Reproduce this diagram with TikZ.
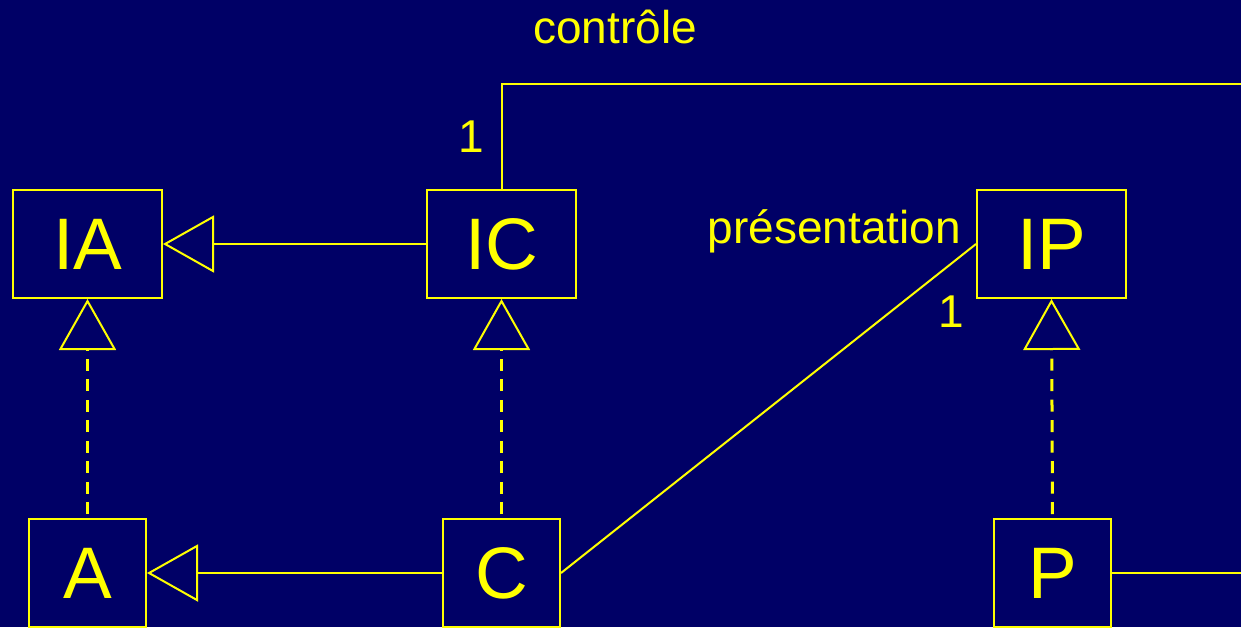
\documentclass[tikz,border=0pt]{standalone}
\usepackage{fontspec}
\setmainfont{Liberation Sans}
\usetikzlibrary{arrows.meta}
\definecolor{bgnavy}{RGB}{0,0,102}
\definecolor{umlyellow}{RGB}{255,255,0}
\begin{document}
\begin{tikzpicture}[x=1pt,y=-1pt,
  classbox/.style={draw=umlyellow,line width=2pt,inner sep=0pt,minimum width=149pt,minimum height=108pt,text=umlyellow,font=\fontsize{73}{80}\selectfont},
  implbox/.style={classbox,minimum width=117pt},
  lbl/.style={text=umlyellow,inner sep=0pt,font=\fontsize{46}{52}\selectfont},
  conn/.style={draw=umlyellow,line width=2pt},
  inherit/.style={conn,-{Triangle[open,length=51pt,width=57pt,line width=2pt]}},
  realize/.style={draw=umlyellow,line width=3pt,dash pattern=on 12pt off 8.5pt,dash phase=16.5pt,-{Triangle[open,length=51pt,width=57pt,line width=2pt]}}
]
\useasboundingbox[fill=bgnavy] (0,0) rectangle (1241,627);
\clip (0,0) rectangle (1241,627);
\node[classbox] (IA) at (87.5,244) {IA};
\node[classbox] (IC) at (501.5,244) {IC};
\node[classbox] (IP) at (1051.5,244) {IP};
\node[implbox] (A) at (87.5,573) {A};
\node[implbox] (C) at (501.5,573) {C};
\node[implbox] (P) at (1052.5,573) {P};
\coordinate (ctrlend) at (1241,84);
\coordinate (presend) at (1241,573);
\draw[inherit] (IC.west) -- (IA.east);
\draw[inherit] (C.west) -- (A.east);
\draw[realize] (A.north) -- (IA.south);
\draw[realize] (C.north) -- (IC.south);
\draw[realize] (P.north) -- (IP.south);
\draw[conn] (C.east) -- (IP.west);
\draw[conn] (IC.north) |- (ctrlend);
\draw[conn] (P.east) -- (presend);
\node[lbl,anchor=base] (ctrl) at (615,43) {contrôle};
\node[lbl,anchor=base] (one1) at (471,152) {1};
\node[lbl,anchor=base east] (pres) at (961,243) {présentation};
\node[lbl,anchor=base] (one2) at (951,327) {1};
\end{tikzpicture}
\end{document}
